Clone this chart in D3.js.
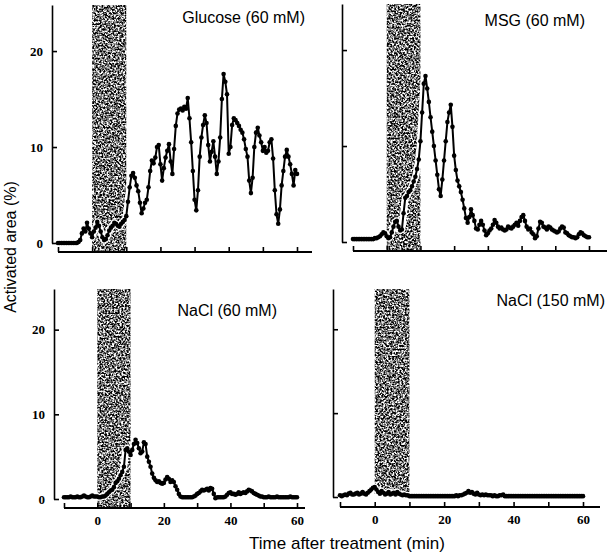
<!DOCTYPE html>
<html><head><meta charset="utf-8">
<script src="https://cdn.jsdelivr.net/npm/d3@7"></script>
<style>
html,body{margin:0;padding:0;background:#fff;}
svg{display:block;}
</style></head>
<body>
<svg id="chart" width="609" height="554"></svg>
<script>
// ---- data (activated area, %, sampled every 0.5 min from -10 to 60 min) ----
const minutes = d3.range(-10, 60.001, 0.5);
const xTicks = [-10, 0, 10, 20, 30, 40, 50, 60];
const xTickLabels = [0, 20, 40, 60];
const yTicks = [0, 10, 20];
const stimulus = [0, 10];
const titles = ["Glucose (60 mM)", "MSG (60 mM)", "NaCl (60 mM)", "NaCl (150 mM)"];

const glucose = [
 0,0,0,0,0,0,0,0,0,0,
 0,0,0.1,0.3,1.0,1.5,1.2,2.1,1.5,1.0,
 0.6,1.2,1.6,2.2,1.8,1.2,0.6,0.3,0.4,0.8,
 1.3,1.6,1.8,2.1,2.0,1.8,1.7,2.0,2.2,2.4,
 2.8,4.3,5.8,7.0,7.3,6.8,6.0,5.4,4.2,3.1,
 3.6,4.2,4.5,5.8,7.5,8.6,8.3,8.9,10.0,10.2,
 8.2,6.5,7.8,8.9,9.6,10.3,8.5,7.2,9.8,12.2,
 13.5,13.9,14.0,13.8,14.2,14.0,15.1,13.0,10.5,7.5,
 4.5,3.4,5.5,9.0,11.0,12.3,13.3,12.5,10.2,8.5,
 9.5,10.6,9.0,7.2,8.5,11.0,15.0,17.6,16.8,15.5,
 9.3,10.0,12.3,13.0,12.8,12.5,12.2,11.8,11.5,10.8,
 9.8,9.0,6.5,5.2,6.8,10.0,11.5,12.0,11.2,10.5,
 9.6,10.0,9.4,9.6,10.5,10.8,8.8,5.5,3.0,2.0,
 3.5,6.0,7.5,9.0,9.7,9.0,8.2,7.2,6.0,7.6,
 7.2];

const msg = [
 0.3,0.3,0.3,0.3,0.3,0.3,0.3,0.3,0.3,0.3,
 0.3,0.3,0.3,0.4,0.4,0.5,0.6,0.8,1.0,0.9,
 0.6,0.4,0.5,1.0,1.6,2.1,2.2,1.6,1.2,1.3,
 3.0,4.6,4.8,5.2,5.4,5.8,6.3,6.8,7.6,8.6,
 10.5,13.5,16.5,17.3,16.0,14.6,13.0,11.5,10.0,8.5,
 7.0,5.5,4.8,6.5,8.5,10.5,12.5,13.5,14.3,12.0,
 9.0,7.5,6.4,5.8,5.2,4.4,3.5,2.5,2.0,2.6,
 3.4,2.8,2.2,1.4,1.3,1.8,2.2,1.8,1.2,0.7,
 0.9,1.2,1.4,1.8,2.3,2.0,1.6,1.4,1.5,1.3,
 1.2,1.3,1.6,1.5,1.4,1.6,1.8,2.0,1.7,2.2,
 2.6,2.8,2.2,1.6,1.3,1.4,1.0,0.8,0.4,0.6,
 1.4,2.1,2.0,1.6,1.5,1.3,1.6,1.5,1.3,1.2,
 1.1,1.0,1.1,1.4,1.6,1.5,1.0,0.9,0.7,0.6,
 0.5,0.5,0.4,0.5,0.8,1.0,0.9,0.7,0.6,0.5,
 0.5];

const nacl60 = [
 0.2,0.2,0.2,0.2,0.3,0.2,0.2,0.2,0.3,0.2,
 0.2,0.3,0.4,0.3,0.2,0.2,0.3,0.4,0.3,0.3,
 0.3,0.2,0.2,0.3,0.3,0.4,0.6,0.8,1.0,1.1,
 1.4,1.9,2.1,2.4,2.8,3.2,3.8,5.8,6.0,5.6,
 5.2,5.8,6.5,7.0,6.6,6.0,5.4,5.6,6.7,6.5,
 5.0,4.4,3.8,3.0,2.5,2.2,2.0,2.1,1.9,1.8,
 1.9,2.3,2.6,2.4,2.0,2.2,2.0,1.5,1.1,0.6,
 0.3,0.2,0.2,0.2,0.2,0.2,0.2,0.2,0.3,0.4,
 0.6,0.7,0.9,1.1,1.0,1.1,1.2,1.0,1.3,1.2,
 0.6,0.1,0.2,0.2,0.2,0.2,0.2,0.3,0.5,0.7,
 0.8,0.6,0.6,0.5,0.6,0.8,0.6,0.7,0.8,0.7,
 0.9,1.1,1.0,0.9,0.7,0.6,0.5,0.4,0.3,0.3,
 0.2,0.2,0.2,0.3,0.2,0.2,0.2,0.2,0.3,0.2,
 0.2,0.2,0.2,0.2,0.2,0.2,0.3,0.2,0.2,0.2,
 0.2];

const nacl150 = [
 0.2,0.1,0.2,0.3,0.2,0.4,0.5,0.3,0.3,0.4,
 0.5,0.3,0.4,0.6,0.4,0.3,0.5,0.7,0.9,1.1,
 1.2,0.9,0.6,0.4,0.7,0.5,0.3,0.4,0.6,0.3,
 0.4,0.5,0.3,0.6,0.4,0.3,0.2,0.3,0.2,0.2,
 0.1,0.1,0.1,0.1,0.1,0.1,0.1,0.1,0.1,0.1,
 0.1,0.1,0.1,0.1,0.1,0.1,0.1,0.1,0.1,0.1,
 0.1,0.1,0.1,0.1,0.1,0.1,0.1,0.2,0.1,0.2,
 0.2,0.3,0.4,0.5,0.7,0.5,0.6,0.4,0.3,0.5,
 0.3,0.2,0.3,0.2,0.3,0.2,0.2,0.2,0.1,0.2,
 0.1,0.1,0.2,0.2,0.3,0.1,0.1,0.1,0.1,0.1,
 0.1,0.1,0.1,0.1,0.1,0.1,0.1,0.1,0.1,0.1,
 0.1,0.1,0.1,0.1,0.1,0.1,0.1,0.1,0.1,0.1,
 0.1,0.1,0.1,0.1,0.1,0.1,0.1,0.1,0.1,0.1,
 0.1,0.1,0.1,0.1,0.1,0.1,0.1,0.1,0.1,0.1,
 0.1];

const seriesList = [glucose, msg, nacl60, nacl150];

// ---- layout ----
const yMax = 24.8;
const panels = [
  {x0:58,  x1:297, y0:243, y1:5,   yAxisX:52,  xAxisY:252, xEnd:312, shadeBottom:252, titleX:305, titleY:23,  yLab:true,  xLab:false},
  {x0:353, x1:589, y0:242, y1:4,   yAxisX:342, xAxisY:251, xEnd:607, shadeBottom:251, titleX:585, titleY:26,  yLab:false, xLab:false},
  {x0:64,  x1:297, y0:499, y1:289, yAxisX:54,  xAxisY:508, xEnd:305, shadeBottom:508, titleX:277, titleY:316, yLab:true,  xLab:true},
  {x0:340, x1:583, y0:497, y1:289, yAxisX:333, xAxisY:507, xEnd:600, shadeBottom:494, titleX:605, titleY:306, yLab:false, xLab:true}
];

const svg = d3.select("#chart");
const defs = svg.append("defs");
const filt = defs.append("filter").attr("id","speckle")
  .attr("x",0).attr("y",0).attr("width","100%").attr("height","100%")
  .attr("color-interpolation-filters","sRGB");
filt.append("feTurbulence").attr("type","fractalNoise").attr("baseFrequency","0.55")
  .attr("numOctaves",2).attr("seed",7).attr("result","noise");
filt.append("feColorMatrix").attr("in","noise").attr("type","matrix")
  .attr("values","3.2 0 0 0 -1.15  3.2 0 0 0 -1.15  3.2 0 0 0 -1.15  0 0 0 0 1")
  .attr("result","gray");
filt.append("feComposite").attr("in","gray").attr("in2","SourceGraphic").attr("operator","in");

panels.forEach((p, i) => {
  const data = minutes.map((t, k) => ({t, v: seriesList[i][k]})).filter(d => d.v != null);
  const x = d3.scaleLinear().domain([-10, 60]).range([p.x0, p.x1]);
  const y = d3.scaleLinear().domain([0, yMax]).range([p.y0, p.y1]);
  const g = svg.append("g");

  // stimulus bar
  g.append("rect")
    .attr("x", x(stimulus[0])).attr("width", x(stimulus[1]) - x(stimulus[0]))
    .attr("y", y(yMax)).attr("height", p.shadeBottom - y(yMax))
    .attr("fill", "#808080").attr("filter", "url(#speckle)");

  // y axis
  const ya = d3.axisLeft(y).tickValues(yTicks).tickSizeInner(-5).tickSizeOuter(0).tickPadding(9)
    .tickFormat(d => p.yLab ? d : "");
  const yg = g.append("g").attr("transform", `translate(${p.yAxisX},0)`).call(ya);
  yg.select(".domain").attr("stroke-width", 1.6);
  yg.selectAll(".tick line").attr("stroke-width", 1.6);
  yg.selectAll(".tick text").attr("font-family", "'Liberation Serif', serif")
    .attr("font-weight", "bold").attr("font-size", 13).attr("fill", "#000");

  // x axis
  const xa = d3.axisBottom(x).tickValues(xTicks).tickSizeInner(-5).tickSizeOuter(0).tickPadding(8)
    .tickFormat(d => (p.xLab && xTickLabels.includes(d)) ? d : "");
  const xg = g.append("g").attr("transform", `translate(0,${p.xAxisY})`).call(xa);
  xg.select(".domain").remove();
  xg.append("line").attr("x1", x(-10)).attr("x2", p.xEnd).attr("y1", 0).attr("y2", 0)
    .attr("stroke", "#000").attr("stroke-width", 2);
  xg.selectAll(".tick line").attr("stroke-width", 1.6);
  xg.selectAll(".tick text").attr("font-family", "'Liberation Serif', serif")
    .attr("font-weight", "bold").attr("font-size", 13).attr("fill", "#000");

  // data line with white halo
  const line = d3.line().x(d => x(d.t)).y(d => y(d.v));
  g.append("path").datum(data).attr("d", line).attr("fill", "none")
    .attr("stroke", "#fff").attr("stroke-width", 7).attr("stroke-linejoin", "round");
  g.append("path").datum(data).attr("d", line).attr("fill", "none")
    .attr("stroke", "#000").attr("stroke-width", 2).attr("stroke-linejoin", "round");
  g.selectAll("circle.pt").data(data).enter().append("circle")
    .attr("class", "pt").attr("cx", d => x(d.t)).attr("cy", d => y(d.v))
    .attr("r", 2.3).attr("fill", "#000");

  // title
  g.append("text").attr("x", p.titleX).attr("y", p.titleY).attr("text-anchor", "end")
    .attr("font-family", "'Liberation Sans', Arial, sans-serif").attr("font-size", 16)
    .attr("fill", "#000").text(titles[i]);
});

// axis titles
svg.append("text").attr("transform", "translate(16,247) rotate(-90)")
  .attr("text-anchor", "middle").attr("font-family", "'Liberation Sans', Arial, sans-serif")
  .attr("font-size", 16).attr("fill", "#000").text("Activated area (%)");
svg.append("text").attr("x", 347).attr("y", 549)
  .attr("text-anchor", "middle").attr("font-family", "'Liberation Sans', Arial, sans-serif")
  .attr("font-size", 17).attr("fill", "#000").text("Time after treatment (min)");
</script>
</body></html>
